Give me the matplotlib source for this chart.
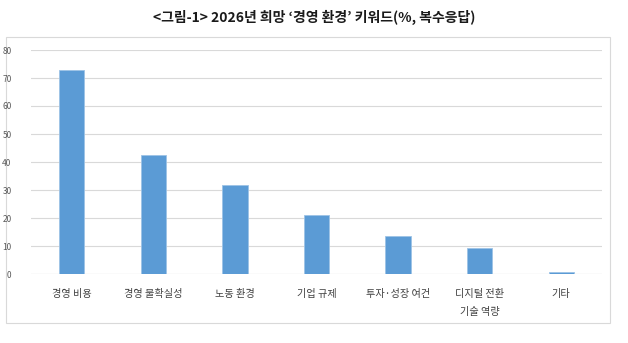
import matplotlib.pyplot as plt
import numpy as np
from matplotlib.patches import Rectangle

plt.rcParams['font.family'] = ['Noto Sans CJK KR', 'DejaVu Sans']

# 데이터
categories = ['경영 비용', '경영 불확실성', '노동 환경', '기업 규제', '투자·성장 여건', '디지털 전환\n기술 역량', '기타']
values = [72.8, 42.6, 31.8, 21.1, 13.7, 9.4, 0.7]
y_ticks = [0, 10, 20, 30, 40, 50, 60, 70, 80]

fig = plt.figure(figsize=(6.28, 3.43), dpi=100)
fig.patch.set_facecolor('white')

# 차트 외곽 테두리
frame = Rectangle((6 / 628, 1 - 323 / 343), 604 / 628, 286 / 343,
                  transform=fig.transFigure, facecolor='none',
                  edgecolor='#D9D9D9', linewidth=0.8, zorder=-1)
fig.patches.append(frame)

ax = fig.add_axes([31 / 628, 1 - 274 / 343, 571 / 628, 224 / 343])
ax.set_facecolor('none')

x = np.arange(len(categories))
ax.bar(x, values, width=0.31, color='#5B9BD5', edgecolor='#9DC3E6',
       linewidth=0.6, zorder=3)

ax.set_xlim(-0.5, len(categories) - 0.5)
ax.set_ylim(0, 80)
ax.set_yticks(y_ticks)
ax.grid(axis='y', color='#D9D9D9', linewidth=0.8, zorder=0)
ax.tick_params(axis='y', length=0, labelsize=6, labelcolor='#595959', pad=14)
ax.tick_params(axis='x', length=0, labelsize=7.3, labelcolor='#404040', pad=11)
ax.set_xticks(x)
ax.set_xticklabels(categories, linespacing=2.0, va='top')
for s in ax.spines.values():
    s.set_visible(False)
ax.axhline(0, color='#D9D9D9', linewidth=0.8, zorder=1)

fig.text(0.5, 1 - 17 / 343, '<그림-1> 2026년 희망 ‘경영 환경’ 키워드(%, 복수응답)',
         ha='center', va='center', fontsize=10, fontweight='bold', color='#1a1a1a')

plt.savefig('out.png', dpi=100)
plt.close()
